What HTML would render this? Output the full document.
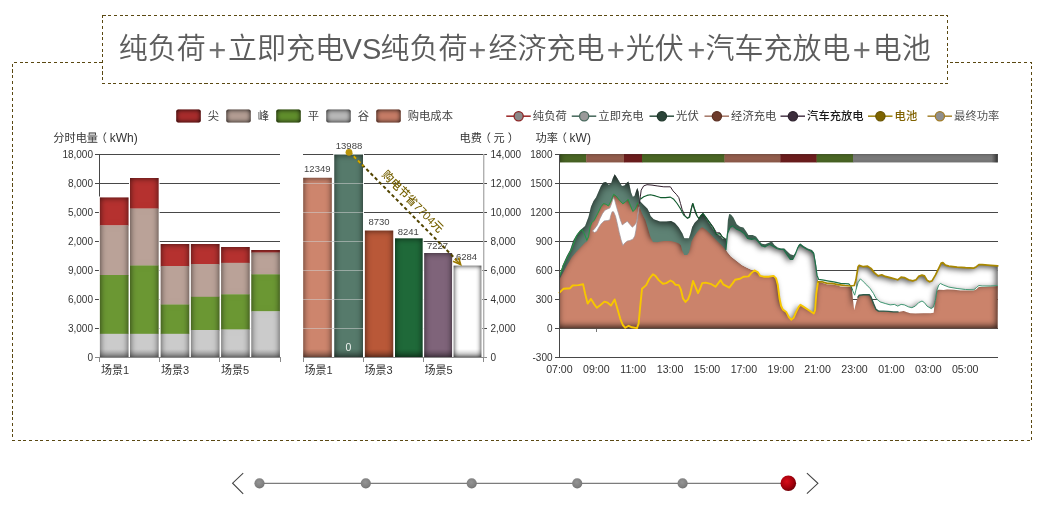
<!DOCTYPE html>
<html lang="zh-CN"><head><meta charset="utf-8"><title>纯负荷+立即充电VS纯负荷+经济充电+光伏+汽车充放电+电池</title>
<style>
html,body{margin:0;padding:0;background:#fff;}
body{width:1043px;height:508px;overflow:hidden;font-family:"Liberation Sans","Noto Sans CJK SC",sans-serif;}
svg{display:block}
text{font-family:"Liberation Sans","Noto Sans CJK SC",sans-serif;}
.t{font-size:29px;font-weight:350;fill:#5c5c5c;}
.ax{font-size:10px;fill:#333;}
.axc{font-size:11px;fill:#333;}
.axt{font-size:10.6px;fill:#333;}
.lg{font-size:11.3px;fill:#444;}
.ttl{font-size:11.2px;fill:#333;}
.val{font-size:9.5px;fill:#444;}
</style></head><body>
<svg width="1043" height="508" viewBox="0 0 1043 508">
<defs>
<filter id="ins" color-interpolation-filters="sRGB" x="-30%" y="-30%" width="160%" height="160%">
 <feComponentTransfer in="SourceAlpha" result="inv"><feFuncA type="table" tableValues="1 0"/></feComponentTransfer>
 <feGaussianBlur in="inv" stdDeviation="3" result="bl"/>
 <feFlood flood-color="#000" flood-opacity="0.68"/>
 <feComposite in2="bl" operator="in"/>
 <feComposite in2="SourceAlpha" operator="in" result="sh"/>
 <feMerge><feMergeNode in="SourceGraphic"/><feMergeNode in="sh"/></feMerge>
</filter>
<filter id="ins2" color-interpolation-filters="sRGB" x="-30%" y="-30%" width="160%" height="160%">
 <feComponentTransfer in="SourceAlpha" result="inv"><feFuncA type="table" tableValues="1 0"/></feComponentTransfer>
 <feGaussianBlur in="inv" stdDeviation="3.4" result="bl"/>
 <feFlood flood-color="#000" flood-opacity="0.72"/>
 <feComposite in2="bl" operator="in"/>
 <feComposite in2="SourceAlpha" operator="in" result="sh"/>
 <feMerge><feMergeNode in="SourceGraphic"/><feMergeNode in="sh"/></feMerge>
</filter>
<filter id="insw" color-interpolation-filters="sRGB" x="-30%" y="-30%" width="160%" height="160%">
 <feComponentTransfer in="SourceAlpha" result="inv"><feFuncA type="table" tableValues="1 0"/></feComponentTransfer>
 <feGaussianBlur in="inv" stdDeviation="3.4" result="bl"/>
 <feOffset in="bl" dx="-1.8" dy="1.8" result="blo"/>
 <feFlood flood-color="#000" flood-opacity="0.72"/>
 <feComposite in2="blo" operator="in"/>
 <feComposite in2="SourceAlpha" operator="in" result="sh"/>
 <feMerge><feMergeNode in="SourceGraphic"/><feMergeNode in="sh"/></feMerge>
</filter>
<filter id="insg" color-interpolation-filters="sRGB" x="-30%" y="-30%" width="160%" height="160%">
 <feComponentTransfer in="SourceAlpha" result="inv"><feFuncA type="table" tableValues="1 0"/></feComponentTransfer>
 <feGaussianBlur in="inv" stdDeviation="4" result="bl"/>
 <feOffset in="bl" dx="0" dy="1.8" result="blo"/>
 <feFlood flood-color="#000" flood-opacity="0.72"/>
 <feComposite in2="blo" operator="in"/>
 <feComposite in2="SourceAlpha" operator="in" result="sh"/>
 <feMerge><feMergeNode in="SourceGraphic"/><feMergeNode in="sh"/></feMerge>
</filter>
<filter id="inss" color-interpolation-filters="sRGB" x="-10%" y="-30%" width="120%" height="160%">
 <feComponentTransfer in="SourceAlpha" result="inv"><feFuncA type="table" tableValues="1 0"/></feComponentTransfer>
 <feGaussianBlur in="inv" stdDeviation="3.2" result="bl"/>
 <feOffset in="bl" dx="-1.5" dy="-2.2" result="blo"/>
 <feFlood flood-color="#000" flood-opacity="0.75"/>
 <feComposite in2="blo" operator="in"/>
 <feComposite in2="SourceAlpha" operator="in" result="sh"/>
 <feMerge><feMergeNode in="SourceGraphic"/><feMergeNode in="sh"/></feMerge>
</filter>
<linearGradient id="rshade" x1="0" y1="0" x2="1" y2="0"><stop offset="0" stop-color="#000" stop-opacity="0"/><stop offset="1" stop-color="#000" stop-opacity="0.4"/></linearGradient>
<linearGradient id="bshade" x1="0" y1="0" x2="0" y2="1"><stop offset="0" stop-color="#000" stop-opacity="0"/><stop offset="1" stop-color="#000" stop-opacity="0.3"/></linearGradient>
<filter id="insl" color-interpolation-filters="sRGB" x="-30%" y="-30%" width="160%" height="160%">
 <feComponentTransfer in="SourceAlpha" result="inv"><feFuncA type="table" tableValues="1 0"/></feComponentTransfer>
 <feGaussianBlur in="inv" stdDeviation="2.4" result="bl"/>
 <feFlood flood-color="#000" flood-opacity="0.95"/>
 <feComposite in2="bl" operator="in"/>
 <feComposite in2="SourceAlpha" operator="in" result="sh"/>
 <feMerge><feMergeNode in="SourceGraphic"/><feMergeNode in="sh"/></feMerge>
</filter>
<radialGradient id="red" cx="40%" cy="38%" r="65%"><stop offset="0" stop-color="#d80c18"/><stop offset="0.6" stop-color="#a8000c"/><stop offset="1" stop-color="#6c0008"/></radialGradient>
<radialGradient id="gry" cx="45%" cy="40%" r="65%"><stop offset="0" stop-color="#949494"/><stop offset="0.7" stop-color="#808080"/><stop offset="1" stop-color="#6a6a6a"/></radialGradient>
</defs>

<g fill="none" stroke="#5a4812" stroke-width="1" stroke-dasharray="3.1,2.6" shape-rendering="crispEdges">
<path d="M102.5,62.5 H12.5 V440.5 H1031.5 V62.5 H947.5"/>
<rect x="102.5" y="15.5" width="845" height="68" fill="#fff"/>
</g>
<text class="t" y="58.6"><tspan x="118.8" y="58.6">纯负荷</tspan><tspan x="217.2" text-anchor="middle" style="font-size:31px;fill:#707070" dy="2">+</tspan><tspan x="228.0" y="58.6">立即充电</tspan><tspan x="342.6" y="58.6">VS</tspan><tspan x="380.4" y="58.6">纯负荷</tspan><tspan x="477.2" text-anchor="middle" style="font-size:31px;fill:#707070" dy="2">+</tspan><tspan x="488.4" y="58.6">经济充电</tspan><tspan x="615.7" text-anchor="middle" style="font-size:31px;fill:#707070" dy="2">+</tspan><tspan x="625.7" y="58.6">光伏</tspan><tspan x="696.2" text-anchor="middle" style="font-size:31px;fill:#707070" dy="2">+</tspan><tspan x="705.5" y="58.6">汽车充放电</tspan><tspan x="861.7" text-anchor="middle" style="font-size:31px;fill:#707070" dy="2">+</tspan><tspan x="872.8" y="58.6">电池</tspan></text>
<rect x="176.25" y="109.5" width="24.5" height="13" rx="2" fill="#a82c2c" filter="url(#insl)"/>
<text class="lg" x="207.75" y="120">尖</text>
<rect x="226.25" y="109.5" width="24.5" height="13" rx="2" fill="#b39d93" filter="url(#insl)"/>
<text class="lg" x="257.75" y="120">峰</text>
<rect x="276.25" y="109.5" width="24.5" height="13" rx="2" fill="#608e2c" filter="url(#insl)"/>
<text class="lg" x="307.75" y="120">平</text>
<rect x="326.25" y="109.5" width="24.5" height="13" rx="2" fill="#b8b8b8" filter="url(#insl)"/>
<text class="lg" x="357.75" y="120">谷</text>
<rect x="376.25" y="109.5" width="24.5" height="13" rx="2" fill="#c67c66" filter="url(#insl)"/>
<text class="lg" x="407.75" y="120">购电成本</text>
<line x1="506.25" y1="116.2" x2="530.75" y2="116.2" stroke="#a03030" stroke-width="1.6"/>
<circle cx="518.65" cy="116.2" r="4.6" fill="#8a8a8a" stroke="#8b2525" stroke-width="1.3"/>
<text class="lg" x="532.85" y="120" style="fill:#444;">纯负荷</text>
<line x1="571.75" y1="116.2" x2="596.25" y2="116.2" stroke="#4f6f63" stroke-width="1.6"/>
<circle cx="584.15" cy="116.2" r="4.6" fill="#9a9a9a" stroke="#4a6a5e" stroke-width="1.3"/>
<text class="lg" x="598.35" y="120" style="fill:#444;">立即充电</text>
<line x1="649.5" y1="116.2" x2="674.0" y2="116.2" stroke="#3c5a4c" stroke-width="1.6"/>
<circle cx="661.9" cy="116.2" r="4.6" fill="#2a4438" stroke="#20382c" stroke-width="1.3"/>
<text class="lg" x="676.1" y="120" style="fill:#444;">光伏</text>
<line x1="704.5" y1="116.2" x2="729.0" y2="116.2" stroke="#a97d6e" stroke-width="1.6"/>
<circle cx="716.9" cy="116.2" r="4.6" fill="#6e3b2b" stroke="#5c3022" stroke-width="1.3"/>
<text class="lg" x="731.1" y="120" style="fill:#444;">经济充电</text>
<line x1="780.5" y1="116.2" x2="805.0" y2="116.2" stroke="#554555" stroke-width="1.6"/>
<circle cx="792.9" cy="116.2" r="4.6" fill="#3b2c3b" stroke="#2e222e" stroke-width="1.3"/>
<text class="lg" x="807.1" y="120" style="fill:#1a1a1a;font-weight:500">汽车充放电</text>
<line x1="868" y1="116.2" x2="892.5" y2="116.2" stroke="#a48a1c" stroke-width="1.6"/>
<circle cx="880.4" cy="116.2" r="4.6" fill="#7d6400" stroke="#6a5500" stroke-width="1.3"/>
<text class="lg" x="894.6" y="120" style="fill:#806200;font-weight:500">电池</text>
<line x1="927.5" y1="116.2" x2="952.0" y2="116.2" stroke="#ab8a3a" stroke-width="1.6"/>
<circle cx="939.9" cy="116.2" r="4.6" fill="#8e8e8e" stroke="#a07c28" stroke-width="1.3"/>
<text class="lg" x="954.1" y="120" style="fill:#555;">最终功率</text>
<text class="ttl" x="53.3" y="141.8">分时电量<tspan dx="-2.2">（</tspan><tspan dx="2.6" style="font-size:12px">kWh)</tspan></text>
<text class="ttl" x="459.6" y="141.8">电费<tspan dx="-2.2">（</tspan><tspan dx="2.4">元</tspan><tspan dx="3.2">）</tspan></text>
<text class="ttl" x="535.6" y="141.8">功率<tspan dx="-2.2">（</tspan><tspan dx="2.6" style="font-size:12px">kW)</tspan></text>
<g shape-rendering="crispEdges" stroke="#474747" stroke-width="1">
<line x1="95" y1="154.5" x2="280" y2="154.5"/>
<line x1="95" y1="183.5" x2="280" y2="183.5"/>
<line x1="95" y1="212.5" x2="280" y2="212.5"/>
<line x1="95" y1="241.5" x2="280" y2="241.5"/>
<line x1="95" y1="270.5" x2="280" y2="270.5"/>
<line x1="95" y1="299.5" x2="280" y2="299.5"/>
<line x1="95" y1="328.5" x2="280" y2="328.5"/>
<line x1="99.5" y1="154" x2="99.5" y2="358"/>
</g>
<text class="ax" x="93" y="158.0" text-anchor="end">18,000</text>
<text class="ax" x="93" y="187.0" text-anchor="end">8,000</text>
<text class="ax" x="93" y="216.0" text-anchor="end">5,000</text>
<text class="ax" x="93" y="245.0" text-anchor="end">2,000</text>
<text class="ax" x="93" y="274.0" text-anchor="end">9,000</text>
<text class="ax" x="93" y="303.0" text-anchor="end">6,000</text>
<text class="ax" x="93" y="332.0" text-anchor="end">3,000</text>
<text class="ax" x="93" y="361.0" text-anchor="end">0</text>
<rect x="98.9" y="196.5" width="30.6" height="161.0" fill="#fff"/>
<g filter="url(#ins)">
<rect x="99.9" y="197.5" width="28.6" height="28.1" fill="#b5312f"/>
<rect x="99.9" y="225.3" width="28.6" height="50.0" fill="#baa298"/>
<rect x="99.9" y="275" width="28.6" height="59.1" fill="#6b9733"/>
<rect x="99.9" y="333.8" width="28.6" height="24.0" fill="#cbcbcb"/>
</g>
<rect x="99.9" y="349" width="28.6" height="8.5" fill="url(#bshade)"/>
<rect x="129.0" y="177" width="30.6" height="180.5" fill="#fff"/>
<g filter="url(#ins)">
<rect x="130.0" y="178" width="28.6" height="30.8" fill="#b5312f"/>
<rect x="130.0" y="208.5" width="28.6" height="57.3" fill="#baa298"/>
<rect x="130.0" y="265.5" width="28.6" height="68.6" fill="#6b9733"/>
<rect x="130.0" y="333.8" width="28.6" height="24.0" fill="#cbcbcb"/>
</g>
<rect x="130.0" y="349" width="28.6" height="8.5" fill="url(#bshade)"/>
<rect x="159.7" y="243" width="30.6" height="114.5" fill="#fff"/>
<g filter="url(#ins)">
<rect x="160.7" y="244" width="28.6" height="22.3" fill="#b5312f"/>
<rect x="160.7" y="266" width="28.6" height="38.8" fill="#baa298"/>
<rect x="160.7" y="304.5" width="28.6" height="29.6" fill="#6b9733"/>
<rect x="160.7" y="333.8" width="28.6" height="24.0" fill="#cbcbcb"/>
</g>
<rect x="160.7" y="349" width="28.6" height="8.5" fill="url(#bshade)"/>
<rect x="189.9" y="243" width="30.6" height="114.5" fill="#fff"/>
<g filter="url(#ins)">
<rect x="190.9" y="244" width="28.6" height="20.3" fill="#b5312f"/>
<rect x="190.9" y="264" width="28.6" height="33.1" fill="#baa298"/>
<rect x="190.9" y="296.8" width="28.6" height="33.5" fill="#6b9733"/>
<rect x="190.9" y="330" width="28.6" height="27.8" fill="#cbcbcb"/>
</g>
<rect x="190.9" y="349" width="28.6" height="8.5" fill="url(#bshade)"/>
<rect x="220.1" y="246" width="30.6" height="111.5" fill="#fff"/>
<g filter="url(#ins)">
<rect x="221.1" y="247" width="28.6" height="16.1" fill="#b5312f"/>
<rect x="221.1" y="262.8" width="28.6" height="31.8" fill="#baa298"/>
<rect x="221.1" y="294.3" width="28.6" height="35.5" fill="#6b9733"/>
<rect x="221.1" y="329.5" width="28.6" height="28.3" fill="#cbcbcb"/>
</g>
<rect x="221.1" y="349" width="28.6" height="8.5" fill="url(#bshade)"/>
<rect x="250.3" y="249" width="30.6" height="108.5" fill="#fff"/>
<g filter="url(#ins)">
<rect x="251.3" y="250" width="28.6" height="2.8" fill="#b5312f"/>
<rect x="251.3" y="252.5" width="28.6" height="22.1" fill="#baa298"/>
<rect x="251.3" y="274.3" width="28.6" height="37.3" fill="#6b9733"/>
<rect x="251.3" y="311.3" width="28.6" height="46.5" fill="#cbcbcb"/>
</g>
<rect x="251.3" y="349" width="28.6" height="8.5" fill="url(#bshade)"/>
<g shape-rendering="crispEdges" stroke="#8a8a8a" stroke-width="1">
<line x1="95" y1="357.5" x2="281" y2="357.5"/>
<line x1="99.5" y1="357" x2="99.5" y2="362"/>
<line x1="159.5" y1="357" x2="159.5" y2="362"/>
<line x1="219.5" y1="357" x2="219.5" y2="362"/>
<line x1="280.5" y1="357" x2="280.5" y2="362"/>
</g>
<text class="axc" x="101" y="373.5">场景1</text>
<text class="axc" x="161" y="373.5">场景3</text>
<text class="axc" x="221" y="373.5">场景5</text>
<g shape-rendering="crispEdges" stroke="#474747" stroke-width="1">
<line x1="303" y1="154.5" x2="487" y2="154.5"/>
<line x1="303" y1="183.5" x2="487" y2="183.5"/>
<line x1="303" y1="212.5" x2="487" y2="212.5"/>
<line x1="303" y1="241.5" x2="487" y2="241.5"/>
<line x1="303" y1="270.5" x2="487" y2="270.5"/>
<line x1="303" y1="299.5" x2="487" y2="299.5"/>
<line x1="303" y1="328.5" x2="487" y2="328.5"/>
</g>
<rect x="302.2" y="176.8" width="30.6" height="180.7" fill="#fff"/>
<rect x="303.2" y="177.8" width="28.6" height="179.7" fill="#cd856d" filter="url(#ins)"/>
<rect x="303.2" y="349" width="28.6" height="8.5" fill="url(#bshade)"/>
<rect x="333.3" y="153.6" width="30.7" height="203.9" fill="#fff"/>
<rect x="334.3" y="154.6" width="28.7" height="202.9" fill="#567a6b" filter="url(#ins)"/>
<rect x="334.3" y="349" width="28.7" height="8.5" fill="url(#bshade)"/>
<rect x="363.9" y="229.6" width="30.3" height="127.9" fill="#fff"/>
<rect x="364.9" y="230.6" width="28.3" height="126.9" fill="#b95838" filter="url(#ins)"/>
<rect x="364.9" y="349" width="28.3" height="8.5" fill="url(#bshade)"/>
<rect x="394" y="237.4" width="29.6" height="120.1" fill="#fff"/>
<rect x="395" y="238.4" width="27.6" height="119.1" fill="#1f6939" filter="url(#ins)"/>
<rect x="395" y="349" width="27.6" height="8.5" fill="url(#bshade)"/>
<rect x="423.2" y="252" width="29.9" height="105.5" fill="#fff"/>
<rect x="424.2" y="253" width="27.9" height="104.5" fill="#7f647a" filter="url(#ins)"/>
<rect x="424.2" y="349" width="27.9" height="8.5" fill="url(#bshade)"/>
<rect x="452.6" y="264.6" width="29.8" height="92.9" fill="#fff"/>
<rect x="453.6" y="265.6" width="27.8" height="91.9" fill="#ffffff" filter="url(#insl)"/>
<rect x="453.6" y="349" width="27.8" height="8.5" fill="url(#bshade)"/>
<g shape-rendering="crispEdges" stroke="#d0d0d0" stroke-opacity="0.55" stroke-width="1">
<line x1="303.2" y1="183.5" x2="331.8" y2="183.5"/>
<line x1="303.2" y1="212.5" x2="331.8" y2="212.5"/>
<line x1="303.2" y1="241.5" x2="331.8" y2="241.5"/>
<line x1="303.2" y1="270.5" x2="331.8" y2="270.5"/>
<line x1="303.2" y1="299.5" x2="331.8" y2="299.5"/>
<line x1="303.2" y1="328.5" x2="331.8" y2="328.5"/>
<line x1="334.3" y1="183.5" x2="363.0" y2="183.5"/>
<line x1="334.3" y1="212.5" x2="363.0" y2="212.5"/>
<line x1="334.3" y1="241.5" x2="363.0" y2="241.5"/>
<line x1="334.3" y1="270.5" x2="363.0" y2="270.5"/>
<line x1="334.3" y1="299.5" x2="363.0" y2="299.5"/>
<line x1="334.3" y1="328.5" x2="363.0" y2="328.5"/>
</g>
<g shape-rendering="crispEdges" stroke="#8a8a8a" stroke-width="1">
<line x1="303" y1="357.5" x2="487" y2="357.5"/>
<line x1="483.7" y1="154" x2="483.7" y2="358" stroke="#b0b0b0" stroke-width="1.4" shape-rendering="auto"/>
<line x1="303.5" y1="357" x2="303.5" y2="362"/>
<line x1="363.5" y1="357" x2="363.5" y2="362"/>
<line x1="423.5" y1="357" x2="423.5" y2="362"/>
<line x1="483.5" y1="357" x2="483.5" y2="362"/>
</g>
<text class="ax" x="490.5" y="158.0">14,000</text>
<text class="ax" x="490.5" y="187.0">12,000</text>
<text class="ax" x="490.5" y="216.0">10,000</text>
<text class="ax" x="490.5" y="245.0">8,000</text>
<text class="ax" x="490.5" y="274.0">6,000</text>
<text class="ax" x="490.5" y="303.0">4,000</text>
<text class="ax" x="490.5" y="332.0">2,000</text>
<text class="ax" x="490.5" y="361.0">0</text>
<text class="axc" x="304.5" y="373.5">场景1</text>
<text class="axc" x="364.5" y="373.5">场景3</text>
<text class="axc" x="424.5" y="373.5">场景5</text>
<text class="val" x="317.3" y="172.3" text-anchor="middle">12349</text>
<text class="val" x="349" y="149" text-anchor="middle">13988</text>
<text class="val" x="379" y="225.3" text-anchor="middle">8730</text>
<text class="val" x="408.3" y="235.3" text-anchor="middle">8241</text>
<text class="val" x="437.5" y="249.3" text-anchor="middle">7227</text>
<text class="val" x="466.5" y="260.3" text-anchor="middle">6284</text>
<text class="val" x="348.3" y="351.3" text-anchor="middle" style="fill:#eef3f0;font-size:10.5px">0</text>
<line x1="349.5" y1="152" x2="456.5" y2="260" stroke="#524400" stroke-width="2" stroke-dasharray="3.4,2.6"/>
<line x1="349.5" y1="152" x2="363.4" y2="166.03" stroke="#d2a800" stroke-width="2" stroke-dasharray="3.4,2.6"/>
<path d="M453,261.3 L460.6,264.5 L458.6,257.6" fill="none" stroke="#9a7800" stroke-width="1.7" stroke-linejoin="miter"/>
<line x1="455" y1="259" x2="460" y2="264" stroke="#9a7800" stroke-width="1.7"/>
<circle cx="349" cy="152.3" r="3.4" fill="#b8940c"/>
<text x="0" y="0" transform="translate(412.8,201.4) rotate(45.3)" text-anchor="middle" style="font-size:11.3px;fill:#756000;font-weight:500" dy="4">购电节省7704元</text>
<g shape-rendering="crispEdges" stroke="#474747" stroke-width="1">
<line x1="555" y1="154.5" x2="997.5" y2="154.5"/>
<line x1="555" y1="183.5" x2="997.5" y2="183.5"/>
<line x1="555" y1="212.5" x2="997.5" y2="212.5"/>
<line x1="555" y1="241.5" x2="997.5" y2="241.5"/>
<line x1="555" y1="270.5" x2="997.5" y2="270.5"/>
<line x1="555" y1="299.5" x2="997.5" y2="299.5"/>
<line x1="555" y1="328.5" x2="997.5" y2="328.5"/>
</g>
<path d="M559.5,275.4 L562.5,265.4 L566.7,256.2 L570.1,250.0 L573.4,240.3 L576.8,234.4 L580.1,230.2 L582.6,228.2 L585.1,226.1 L588.5,216.9 L591.0,206.8 L593.5,201.0 L596.0,197.6 L598.5,191.8 L601.0,185.9 L603.5,182.6 L606.0,182.1 L608.5,184.7 L611.0,183.7 L612.7,178.4 L614.7,174.2 L616.9,177.6 L619.4,181.7 L621.9,185.9 L624.4,185.4 L626.6,183.1 L628.3,181.4 L629.5,185.1 L631.1,192.6 L632.8,196.8 L634.5,195.9 L636.1,190.9 L637.3,188.1 L638.6,191.8 L640.0,201.2 L643.7,204.9 L647.5,208.7 L649.3,212.4 L650.6,216.1 L653.7,219.2 L659.9,221.4 L666.2,221.4 L671.1,220.9 L674.9,223.0 L678.6,227.3 L682.4,233.6 L684.2,237.9 L684.7,238.3 L688.9,238.3 L690.5,233.6 L692.2,226.9 L694.7,222.7 L698.0,219.4 L700.6,215.2 L702.7,213.5 L704.7,216.0 L707.2,220.2 L710.6,225.2 L713.9,230.2 L717.3,234.4 L720.6,236.1 L722.3,238.6 L724.8,238.6 L726.5,238.5 L726.5,328.3 L559.5,328.3Z" fill="#5e8274" filter="url(#insg)"/>
<path d="M559.5,279.5 L563.0,273.0 L567.0,265.5 L572.0,257.0 L576.0,252.3 L580.2,247.7 L585.2,242.6 L587.1,241.4 L588.5,236.9 L590.1,226.9 L591.8,222.7 L594.3,220.2 L597.7,213.5 L601.0,206.8 L603.5,203.5 L606.0,204.3 L608.5,206.0 L611.0,201.0 L613.6,194.3 L616.1,195.9 L619.4,200.1 L622.8,203.8 L625.3,202.1 L628.1,199.3 L630.3,205.2 L632.8,211.5 L635.3,209.3 L637.8,202.6 L642.0,213.5 L645.4,220.2 L647.9,228.6 L650.4,236.9 L652.9,242.0 L657.1,242.3 L663.8,241.1 L670.4,241.1 L675.5,242.3 L678.8,243.6 L680.8,245.3 L682.1,250.3 L684.2,255.0 L687.2,255.0 L688.9,252.8 L689.7,250.0 L691.4,242.0 L693.9,236.9 L697.2,231.9 L700.6,228.2 L702.2,227.2 L705.6,229.4 L709.8,233.6 L713.9,237.8 L718.1,242.0 L722.3,246.1 L725.6,250.0 L731.0,256.5 L736.7,261.0 L741.8,265.0 L746.0,267.3 L750.2,269.2 L753.5,270.4 L754.4,270.4 L757.7,272.1 L760.2,275.9 L763.6,276.7 L768.6,276.7 L773.6,275.9 L776.1,278.4 L777.8,285.1 L779.5,298.5 L781.1,306.0 L782.8,309.4 L786.2,311.9 L788.7,316.9 L791.2,319.7 L793.7,317.7 L796.2,311.9 L798.7,306.9 L800.4,304.8 L803.7,306.9 L808.8,310.2 L813.8,313.5 L815.1,310.2 L816.3,293.5 L818.0,281.8 L822.1,282.8 L827.1,284.4 L832.2,284.4 L838.9,285.8 L840.0,286.5 L850.0,287.1 L851.7,287.6 L853.0,300.2 L854.2,310.2 L855.9,303.5 L857.6,297.7 L859.2,295.2 L863.4,294.8 L869.3,294.8 L871.0,296.9 L873.5,303.5 L876.0,309.4 L878.5,311.1 L883.5,311.1 L888.5,311.4 L893.5,311.9 L898.6,311.9 L903.6,311.1 L906.9,312.2 L910.3,313.2 L915.3,313.6 L923.6,313.2 L930.4,313.2 L933.7,312.7 L935.0,300.2 L936.2,291.0 L938.7,289.8 L943.7,290.1 L947.1,289.5 L953.8,289.8 L960.5,290.5 L967.1,290.5 L973.9,290.5 L976.4,289.3 L978.9,287.1 L983.9,287.1 L990.6,286.5 L997.8,286.0 L997.6,328.3 L559.5,328.3Z" fill="#cb836b" filter="url(#inss)"/>
<path d="M592.4,230.9 L593.9,229.7 L597.4,224.9 L599.9,218.7 L602.4,213.7 L604.9,210.2 L607.4,209.0 L609.8,208.1 L611.3,204.3 L612.6,200.0 L613.6,197.5 L614.8,200.6 L616.7,207.5 L618.6,213.7 L620.4,219.9 L622.3,224.9 L624.8,223.0 L627.3,221.2 L629.8,224.3 L632.3,227.2 L634.8,224.9 L636.6,221.8 L637.9,212.4 L639.1,206.8 L638.5,211.2 L637.3,219.9 L636.0,229.9 L634.8,236.1 L632.9,239.2 L629.8,240.5 L627.3,241.1 L624.8,243.0 L622.9,245.5 L621.1,239.9 L619.2,232.4 L617.3,223.7 L615.5,216.2 L613.6,211.8 L612.1,211.8 L610.8,215.6 L609.8,219.9 L607.4,220.6 L604.2,220.9 L601.1,223.9 L598.6,227.7 L596.8,231.2 L594.6,232.6 L592.4,230.9Z" fill="#fff" stroke="#9a9098" stroke-width="0.7" stroke-linejoin="round"/>
<path d="M725.9,250.1 L727.5,233.4 L730.0,227.6 L732.5,225.9 L736.7,229.2 L740.9,230.9 L744.3,233.4 L747.6,238.4 L751.8,239.3 L755.1,238.4 L758.5,241.8 L761.8,245.9 L765.2,246.8 L769.4,244.3 L772.7,245.9 L776.9,248.5 L780.2,249.3 L783.6,249.3 L786.9,254.3 L790.3,259.3 L792.8,259.3 L795.3,254.3 L797.8,247.6 L800.0,244.3 L802.8,246.8 L807.0,249.3 L811.2,251.0 L813.7,253.5 L815.4,263.5 L817.0,275.2 L818.2,281.7 L818.0,281.8 L816.3,293.5 L815.1,310.2 L813.8,313.5 L808.8,310.2 L803.7,306.9 L800.4,304.8 L798.7,306.9 L796.2,311.9 L793.7,317.7 L791.2,319.7 L788.7,316.9 L786.2,311.9 L782.8,309.4 L781.1,306.0 L779.5,298.5 L777.8,285.1 L776.1,278.4 L773.6,275.9 L768.6,276.7 L763.6,276.7 L760.2,275.9 L757.7,272.1 L754.4,270.4 L753.5,270.4 L750.2,269.2 L746.0,267.3 L741.8,265.0 L736.7,261.0 L731.0,256.5 L725.9,250.0Z" fill="#fff" filter="url(#insw)"/>
<path d="M726.7,238.4 L727.9,220.0 L729.2,214.0 L730.9,214.5 L733.4,217.5 L736.7,224.2 L740.1,226.7 L743.4,227.6 L745.9,230.9 L748.4,235.1 L752.6,235.1 L756.0,236.4 L759.3,240.9 L761.8,243.8 L765.2,244.3 L769.4,242.6 L771.9,241.4 L774.4,245.1 L777.7,247.6 L781.1,248.5 L784.4,248.5 L786.9,251.0 L790.3,254.3 L793.6,255.2 L796.1,251.8 L798.6,245.1 L800.3,243.4 L803.6,245.9 L807.8,248.5 L812.0,250.1 L814.0,252.6 L816.2,265.2 L817.5,276.9 L813.7,253.5 L811.2,251.0 L807.0,249.3 L802.8,246.8 L800.0,244.3 L797.8,247.6 L795.3,254.3 L792.8,259.3 L790.3,259.3 L786.9,254.3 L783.6,249.3 L780.2,249.3 L776.9,248.5 L772.7,245.9 L769.4,244.3 L765.2,246.8 L761.8,245.9 L758.5,241.8 L755.1,238.4 L751.8,239.3 L747.6,238.4 L744.3,233.4 L740.9,230.9 L736.7,229.2 L732.5,225.9 L730.0,227.6 L727.5,233.4 L725.9,250.1Z" fill="#3f5d50"/>
<path d="M855.9,280.1 L858.1,266.7 L859.2,265.4 L863.4,266.7 L867.6,266.2 L871.0,268.4 L874.3,272.6 L878.1,275.9 L881.8,274.8 L885.2,276.4 L890.2,277.6 L894.4,278.8 L897.7,279.8 L901.1,277.1 L904.4,277.6 L908.6,279.8 L912.8,280.9 L916.1,279.8 L918.6,276.4 L922.0,275.1 L924.5,275.9 L927.0,280.1 L929.5,281.8 L932.0,280.9 L935.4,275.1 L938.7,268.4 L941.2,263.1 L942.9,262.6 L945.4,265.1 L948.8,266.1 L957.1,267.1 L965.5,267.7 L973.9,268.1 L976.4,266.7 L978.9,264.7 L982.2,264.7 L990.6,265.4 L997.8,265.9 L997.8,285.5 L990.6,286.0 L982.2,286.0 L978.9,285.5 L976.4,287.6 L973.9,289.8 L965.5,289.5 L957.1,288.5 L948.8,287.1 L943.7,285.1 L940.4,283.5 L938.7,285.1 L937.0,290.1 L935.4,300.2 L933.7,306.9 L931.2,308.6 L927.0,306.1 L924.5,302.7 L922.0,301.0 L918.6,302.7 L915.3,306.1 L911.9,307.7 L908.6,306.9 L904.4,304.9 L901.1,304.4 L897.7,306.1 L894.4,304.4 L890.2,304.9 L885.2,303.5 L880.1,301.9 L876.0,298.5 L873.5,293.5 L870.1,288.5 L866.8,285.1 L863.4,281.8 L860.4,278.8 L858.1,282.6 L855.9,290.1Z" fill="#fff" filter="url(#insw)"/>
<path d="M639.5,203.5 L640.3,196.8 L641.2,190.1 L643.7,185.9 L647.0,184.7 L652.0,185.1 L657.1,185.9 L663.8,186.8 L670.4,186.8 L673.0,190.9 L676.3,194.3 L678.8,197.6 L680.5,203.5 L682.1,209.3 L684.7,215.2 L687.2,218.2 L688.9,217.7 L690.9,210.2 L692.5,203.5 L694.2,208.8 L696.4,215.2 L698.9,218.5 L701.4,215.2 L703.1,213.5 L705.6,216.9 L708.9,221.1 L713.1,226.9 L716.5,232.8 L719.8,232.8 L722.3,236.9 L724.8,238.6" fill="none" stroke="#33202e" stroke-width="1" stroke-linejoin="round"/>
<path d="M559.5,276.3 L563.4,265.4 L567.5,257.0 L571.7,248.7 L576.8,235.3 L581.8,229.4 L584.3,233.6 L586.8,240.3 L588.5,236.9 L590.1,226.9 L591.8,222.7 L594.3,220.2 L597.7,213.5 L601.0,206.8 L603.5,203.5 L606.0,204.3 L608.5,206.0 L611.0,201.0 L613.6,194.3 L616.1,195.9 L619.4,200.1 L622.8,203.8 L625.3,202.1 L628.1,199.3 L630.3,205.2 L632.8,211.5 L635.3,209.3 L637.8,202.6" fill="none" stroke="#1f9a43" stroke-width="1" stroke-linejoin="round"/>
<path d="M640.3,199.3 L643.7,196.8 L647.0,195.4 L650.4,194.8 L655.4,195.9 L660.4,197.6 L665.4,197.6 L670.4,197.1 L673.8,199.3 L677.1,203.5 L680.5,208.8 L683.8,215.2 L687.2,218.2 L689.7,216.9 L691.4,208.5 L693.0,203.5 L694.7,209.3 L697.2,216.0 L698.9,218.5 L701.4,215.2 L703.1,213.5 L705.6,216.9 L708.9,221.9 L713.1,227.7 L716.5,234.4 L719.8,233.6 L722.3,236.9 L724.8,238.6" fill="none" stroke="#0f5a2c" stroke-width="1.1" stroke-linejoin="round"/>
<path d="M725.9,250.1 L727.5,233.4 L730.0,227.6 L732.5,225.9 L736.7,229.2 L740.9,230.9 L744.3,233.4 L747.6,238.4 L751.8,239.3 L755.1,238.4 L758.5,241.8 L761.8,245.9 L765.2,246.8 L769.4,244.3 L772.7,245.9 L776.9,248.5 L780.2,249.3 L783.6,249.3 L786.9,254.3 L790.3,259.3 L792.8,259.3 L795.3,254.3 L797.8,247.6 L800.0,244.3 L802.8,246.8 L807.0,249.3 L811.2,251.0 L813.7,253.5 L815.4,263.5 L817.0,275.2 L818.7,279.4 L823.7,280.2 L828.8,281.1 L833.8,281.9 L840.5,283.3 L848.8,283.9 L851.3,286.9 L852.5,290.1" fill="none" stroke="#1c7048" stroke-width="1.2" stroke-linejoin="round"/>
<path d="M852.5,290.1 L854.7,295.2 L855.9,290.1 L858.1,282.6 L860.4,278.8 L863.4,281.8 L866.8,285.1 L870.1,288.5 L873.5,293.5 L876.0,298.5 L880.1,301.9 L885.2,303.5 L890.2,304.9 L894.4,304.4 L897.7,306.1 L901.1,304.4 L904.4,304.9 L908.6,306.9 L911.9,307.7 L915.3,306.1 L918.6,302.7 L922.0,301.0 L924.5,302.7 L927.0,306.1 L931.2,308.6 L933.7,306.9 L935.4,300.2 L937.0,290.1 L938.7,285.1 L940.4,283.5 L943.7,285.1 L948.8,287.1 L957.1,288.5 L965.5,289.5 L973.9,289.8 L976.4,287.6 L978.9,285.5 L982.2,286.0 L990.6,286.0 L997.8,285.5" fill="none" stroke="#2f9068" stroke-width="0.9" stroke-linejoin="round"/>
<path d="M857.6,297.7 L859.2,295.2 L863.4,294.8 L869.3,294.8 L871.0,296.9 L873.5,303.5 L876.0,309.4 L878.5,311.1 L883.5,311.1 L888.5,311.4 L893.5,311.9 L898.6,311.9" fill="none" stroke="#2d5a49" stroke-width="1.4" stroke-linejoin="round"/>
<path d="M559.5,292.7 L563.4,288.8 L570.1,288.2 L572.6,285.5 L578.4,285.1 L583.1,284.3 L585.1,293.5 L587.6,303.6 L591.0,298.9 L593.8,303.6 L596.8,307.7 L600.2,305.2 L604.4,301.6 L607.7,302.7 L611.0,305.6 L614.7,299.4 L616.9,306.9 L620.2,318.6 L622.8,325.0 L625.3,327.8 L628.6,325.8 L632.0,327.3 L637.0,328.1 L638.6,323.6 L640.0,308.6 L642.0,288.8 L646.2,285.1 L649.5,278.5 L652.9,274.3 L655.4,275.9 L658.7,280.1 L662.9,283.8 L666.3,283.1 L670.4,280.5 L673.0,281.8 L675.5,284.8 L678.8,285.1 L680.8,289.3 L683.0,298.5 L685.5,301.9 L688.0,299.4 L690.2,293.5 L693.0,281.0 L695.5,286.8 L698.0,293.2 L700.2,288.5 L702.2,283.1 L705.6,282.6 L710.6,283.8 L715.6,286.8 L720.6,280.1 L723.1,284.3 L729.3,287.6 L732.6,283.4 L735.1,279.7 L740.1,278.7 L743.5,276.7 L748.5,276.4 L751.0,273.4 L754.4,270.4 L757.7,272.1 L760.2,275.9 L763.6,276.7 L768.6,276.7 L773.6,275.9 L776.1,278.4 L777.8,285.1 L779.5,298.5 L781.1,306.0 L782.8,309.4 L786.2,311.9 L788.7,316.9 L791.2,319.7 L793.7,317.7 L796.2,311.9 L798.7,306.9 L800.4,304.8 L803.7,306.9 L808.8,310.2 L813.8,313.5 L815.1,310.2 L816.3,293.5 L818.0,281.8" fill="none" stroke="#f7c700" stroke-width="1.9" stroke-linejoin="round" stroke-linecap="round"/>
<path d="M818.0,281.8 L822.1,281.8 L827.1,283.4 L832.2,283.4 L838.9,284.8 L840.0,284.8 L845.0,285.5 L850.0,286.0 L854.2,285.5 L855.9,280.1 L858.1,266.7 L859.2,265.4 L863.4,266.7 L867.6,266.2 L871.0,268.4 L874.3,272.6 L878.1,275.9 L881.8,274.8 L885.2,276.4 L890.2,277.6 L894.4,278.8 L897.7,279.8 L901.1,277.1 L904.4,277.6 L908.6,279.8 L912.8,280.9 L916.1,279.8 L918.6,276.4 L922.0,275.1 L924.5,275.9 L927.0,280.1 L929.5,281.8 L932.0,280.9 L935.4,275.1 L938.7,268.4 L941.2,263.1 L942.9,262.6 L945.4,265.1 L948.8,266.1 L957.1,267.1 L965.5,267.7 L973.9,268.1 L976.4,266.7 L978.9,264.7 L982.2,264.7 L990.6,265.4 L997.8,265.9" fill="none" stroke="#a88700" stroke-width="1.7" stroke-linejoin="round" stroke-linecap="round"/>
<g filter="url(#ins)">
<rect x="559.5" y="154.2" width="27.0" height="8.2" fill="#55752a"/>
<rect x="586.2" y="154.2" width="38.1" height="8.2" fill="#a86b58"/>
<rect x="624.0" y="154.2" width="18.3" height="8.2" fill="#7d2222"/>
<rect x="642.0" y="154.2" width="82.8" height="8.2" fill="#55752a"/>
<rect x="724.5" y="154.2" width="56.1" height="8.2" fill="#a86b58"/>
<rect x="780.3" y="154.2" width="36.6" height="8.2" fill="#7d2222"/>
<rect x="816.6" y="154.2" width="36.7" height="8.2" fill="#55752a"/>
<rect x="853.0" y="154.2" width="144.9" height="8.2" fill="#8c8c8c"/>
</g>
<rect x="991.5" y="154.2" width="6.1" height="8.2" fill="url(#rshade)"/>
<g shape-rendering="crispEdges" stroke="#474747" stroke-width="1">
<line x1="559.5" y1="154" x2="559.5" y2="358"/>
<line x1="555" y1="357.5" x2="997.5" y2="357.5"/>
<line x1="596.5" y1="329" x2="596.5" y2="332" stroke="#777"/>
</g>
<text class="ax" x="552.5" y="158.0" text-anchor="end">1800</text>
<text class="ax" x="552.5" y="187.0" text-anchor="end">1500</text>
<text class="ax" x="552.5" y="216.0" text-anchor="end">1200</text>
<text class="ax" x="552.5" y="245.0" text-anchor="end">900</text>
<text class="ax" x="552.5" y="274.0" text-anchor="end">600</text>
<text class="ax" x="552.5" y="303.0" text-anchor="end">300</text>
<text class="ax" x="552.5" y="332.0" text-anchor="end">0</text>
<text class="ax" x="552.5" y="361.0" text-anchor="end">-300</text>
<text class="axt" x="559.4" y="373.2" text-anchor="middle">07:00</text>
<text class="axt" x="596.3" y="373.2" text-anchor="middle">09:00</text>
<text class="axt" x="633.2" y="373.2" text-anchor="middle">11:00</text>
<text class="axt" x="670.1" y="373.2" text-anchor="middle">13:00</text>
<text class="axt" x="707.0" y="373.2" text-anchor="middle">15:00</text>
<text class="axt" x="743.9" y="373.2" text-anchor="middle">17:00</text>
<text class="axt" x="780.8" y="373.2" text-anchor="middle">19:00</text>
<text class="axt" x="817.6" y="373.2" text-anchor="middle">21:00</text>
<text class="axt" x="854.5" y="373.2" text-anchor="middle">23:00</text>
<text class="axt" x="891.4" y="373.2" text-anchor="middle">01:00</text>
<text class="axt" x="928.3" y="373.2" text-anchor="middle">03:00</text>
<text class="axt" x="965.2" y="373.2" text-anchor="middle">05:00</text>
<line x1="259" y1="483.3" x2="789" y2="483.3" stroke="#5c5c5c" stroke-width="1"/>
<circle cx="259.5" cy="483.3" r="5.1" fill="url(#gry)"/>
<circle cx="365.8" cy="483.3" r="5.1" fill="url(#gry)"/>
<circle cx="471.7" cy="483.3" r="5.1" fill="url(#gry)"/>
<circle cx="577.2" cy="483.3" r="5.1" fill="url(#gry)"/>
<circle cx="682.6" cy="483.3" r="5.1" fill="url(#gry)"/>
<circle cx="788.3" cy="483.3" r="7.8" fill="url(#red)"/>
<path d="M243.2,473.2 L232.6,483.2 L243.2,493.8" fill="none" stroke="#444" stroke-width="1.1"/>
<path d="M806.9,473.2 L817.9,483.3 L806.9,493.6" fill="none" stroke="#444" stroke-width="1.1"/>
</svg></body></html>
